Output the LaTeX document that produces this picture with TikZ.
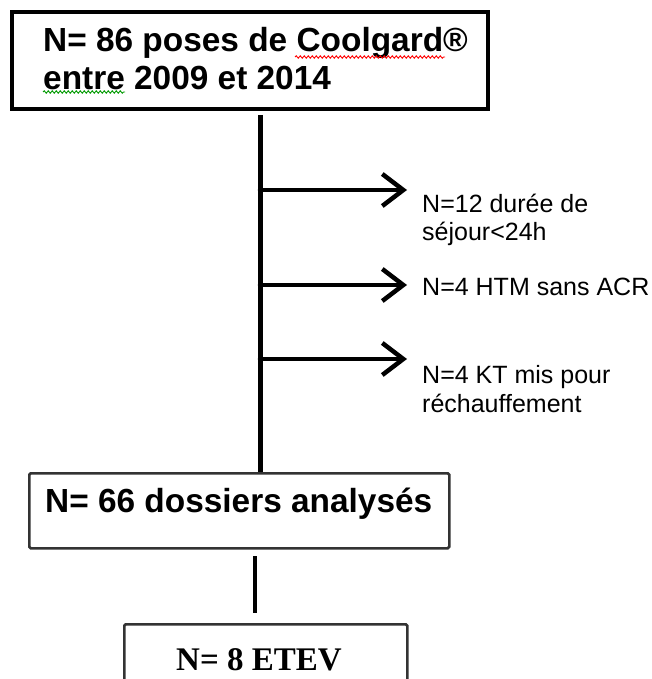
\documentclass[tikz,border=0pt]{standalone}
\usepackage{fontspec}
\setmainfont{Liberation Sans}
\newfontfamily\serifface{Liberation Serif}
\usetikzlibrary{arrows.meta,decorations.pathmorphing}
\begin{document}
\begin{tikzpicture}[x=1pt,y=-1pt,
  bigtxt/.style={font=\fontsize{33.4}{38}\selectfont\bfseries, inner sep=0pt, anchor=base west},
  lbl/.style={font=\fontsize{25}{28}\selectfont, inner sep=0pt, anchor=base west},
  branch/.style={line width=4.5pt, line cap=round, line join=round, -{Straight Barb[length=21pt,width=32pt]}},
  spine/.style={line width=5pt},
  thinbox/.style={draw=black!80, line width=2.5pt, rounded corners=1.5pt, inner sep=0pt, anchor=north west},
  squiggle/.style={line width=0.9pt, decorate, decoration={snake, amplitude=1.2pt, segment length=4pt}}]
\useasboundingbox (0,0) rectangle (651,679);
% boxes
\node[draw, line width=4pt, inner sep=0pt, anchor=north west, minimum width=476pt, minimum height=97pt] (top) at (10,10) {};
\node[thinbox, minimum width=420pt, minimum height=75pt] (mid) at (28,472) {};
\node[thinbox, minimum width=283pt, minimum height=90pt] (bot) at (123,623) {};
% texts in boxes
\node[bigtxt] (t1) at (43,52) {N= 86 poses de Coolgard®};
\node[bigtxt] (t2) at (43,90) {entre 2009 et 2014};
\node[bigtxt] (m1) at (45,512) {N= 66 dossiers analysés};
\node[bigtxt, font=\fontsize{33}{38}\selectfont\serifface\bfseries] (bt) at (176,670) {N= 8 ETEV};
% spell-check marks
\draw[red, squiggle] (295,57) -- (445,57);
\draw[green!60!black, squiggle] (43,92) -- (125,92);
% spine
\coordinate (s0) at (260,115);
\draw[spine] (s0) -- (s0 |- mid.north);
% branches
\coordinate (b1) at (260,190); \coordinate (e1) at (407,190);
\coordinate (b2) at (260,285); \coordinate (e2) at (407,285);
\coordinate (b3) at (260,359); \coordinate (e3) at (407,359);
\draw[branch] (b1) -- (e1);
\draw[branch] (b2) -- (e2);
\draw[branch] (b3) -- (e3);
% labels
\node[lbl] (l1a) at (422,212) {N=12 durée de};
\node[lbl] (l1b) at (422,240) {séjour<24h};
\node[lbl] (l2) at (422,295) {N=4 HTM sans ACR};
\node[lbl] (l3a) at (422,383) {N=4 KT mis pour};
\node[lbl] (l3b) at (422,412) {réchauffement};
% lower connector
\coordinate (c0) at (255,556);
\coordinate (c1) at (255,613);
\draw[line width=3.5pt] (c0) -- (c1);
\end{tikzpicture}
\end{document}
